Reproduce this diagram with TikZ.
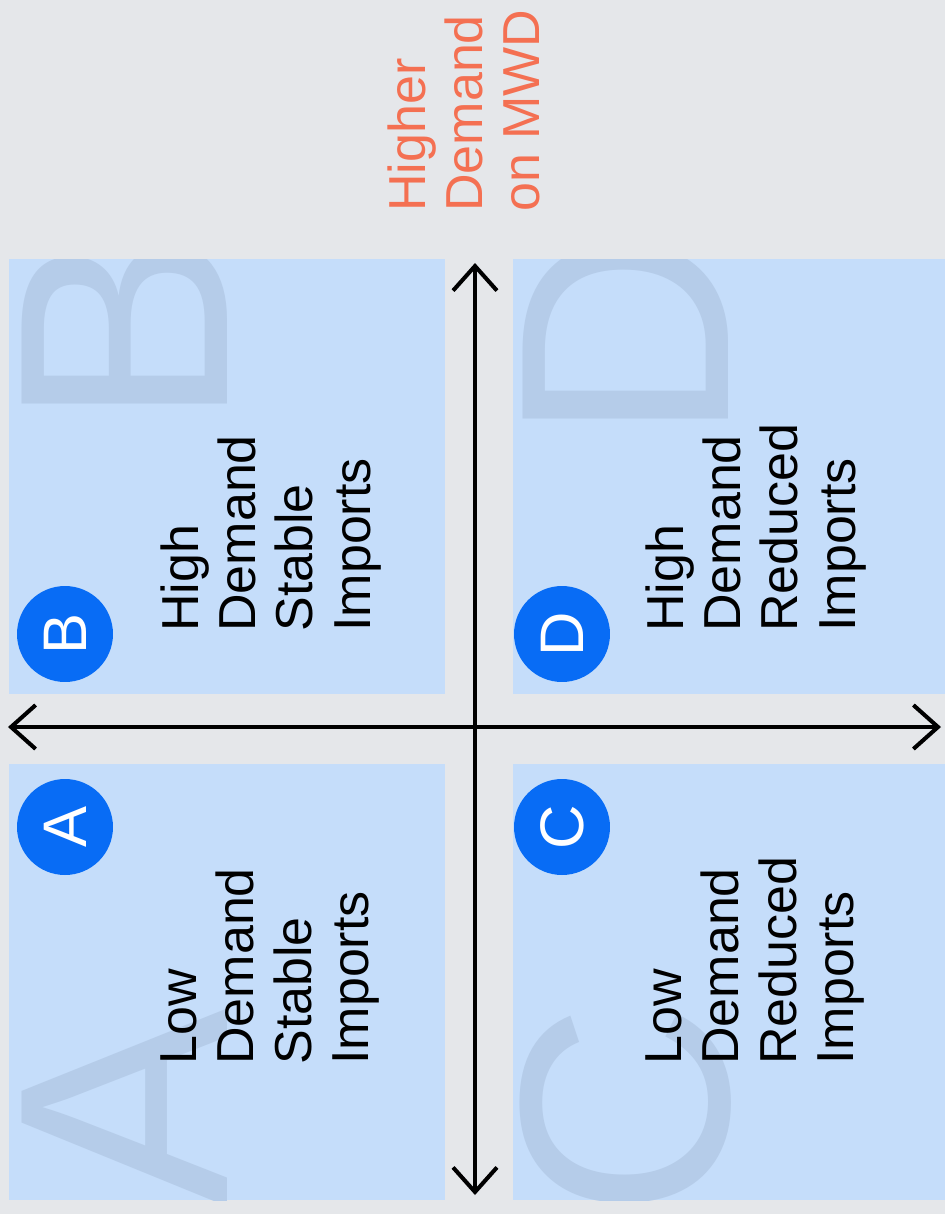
\documentclass[tikz,border=0pt]{standalone}
\usepackage{fontspec}
\setmainfont{Liberation Sans}
\usetikzlibrary{arrows.meta}

\definecolor{bgGray}{RGB}{229,231,234}
\definecolor{quadBlue}{RGB}{197,221,250}
\definecolor{bigLetter}{RGB}{181,204,233}
\definecolor{badgeBlue}{RGB}{8,108,245}
\definecolor{axisOrange}{RGB}{244,112,82}

\begin{document}
\begin{tikzpicture}[x=0.02cm,y=-0.02cm,
    quad/.style={fill=quadBlue},
    badge/.style={circle,fill=badgeBlue,text=white,minimum size=1.92cm,
      inner sep=0pt,rotate=90,font=\fontsize{35}{35}\selectfont},
    caption/.style={rotate=90,anchor=north west,align=left,inner sep=0pt,
      font=\fontsize{29.6}{32.7}\selectfont},
    bigtag/.style={rotate=90,inner sep=0pt,text=bigLetter,
      font=\fontsize{170}{170}\selectfont},
    axis/.style={line width=2.3pt,
      {Straight Barb[length=14pt,width=25pt,line width=2.3pt]}-{Straight Barb[length=14pt,width=25pt,line width=2.3pt]}}]

    \fill[bgGray] (0,0) rectangle (945,1214);
    \useasboundingbox (0,0) rectangle (945,1214);

    % quadrants
    \fill[quad] (9,259) rectangle (445,694);
    \fill[quad] (9,764) rectangle (445,1200);
    \fill[quad] (513,259) rectangle (945,694);
    \fill[quad] (513,764) rectangle (945,1200);

    % faded letters
    \begin{scope}
      \clip (9,259) rectangle (445,694);
      \node[bigtag,anchor=base west] (bigB) at (227,429) {B};
    \end{scope}
    \begin{scope}
      \clip (9,764) rectangle (445,1200);
      \node[bigtag,anchor=base east] (bigA) at (227,1008) {A};
    \end{scope}
    \begin{scope}
      \clip (513,259) rectangle (945,694);
      \node[bigtag,anchor=base west] (bigD) at (728,444) {D};
    \end{scope}
    \begin{scope}
      \clip (513,764) rectangle (945,1200);
      \node[bigtag,anchor=base east] (bigC) at (728,1002) {C};
    \end{scope}

    % axes
    \coordinate (west) at (8,727);
    \coordinate (east) at (941,727);
    \coordinate (north) at (475,263);
    \coordinate (south) at (475,1195);
    \draw[axis] (west) -- (east);
    \draw[axis] (north) -- (south);

    \node[caption,text=axisOrange] (axislabel) at (387,212) {Higher\\Demand\\on MWD};

    % badges
    \node[badge] (badgeB) at (65,634) {B};
    \node[badge] (badgeA) at (65,827) {A};
    \node[badge] (badgeD) at (562,634) {D};
    \node[badge] (badgeC) at (562,827) {C};

    % quadrant texts
    \node[caption] (textB) at (160,632) {High\\Demand\\Stable\\Imports};
    \node[caption] (textA) at (160,1065) {Low\\Demand\\Stable\\Imports};
    \node[caption] (textD) at (645,632) {High\\Demand\\Reduced\\Imports};
    \node[caption] (textC) at (645,1065) {Low\\Demand\\Reduced\\Imports};

\end{tikzpicture}
\end{document}
